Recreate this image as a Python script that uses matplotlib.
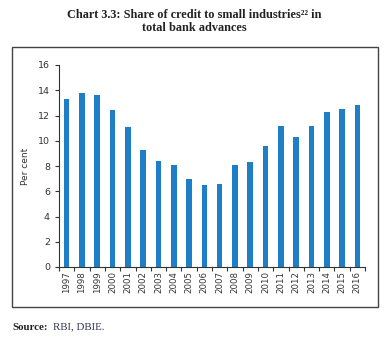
import matplotlib
matplotlib.use("Agg")
import matplotlib.pyplot as plt
from matplotlib.patches import Rectangle

# --- data ---
years = [str(y) for y in range(1997, 2017)]
share = [13.3, 13.8, 13.6, 12.4, 11.1, 9.3, 8.4, 8.1, 7.0, 6.5,
         6.6, 8.1, 8.3, 9.6, 11.2, 10.3, 11.2, 12.3, 12.5, 12.8]

BAR = "#1f7fc6"
DARK = "#333333"
SERIF = ["Liberation Serif", "DejaVu Serif"]

fig = plt.figure(figsize=(3.88, 3.39), dpi=100)
fig.patch.set_facecolor("white")

# outer frame around the chart
fig.add_artist(Rectangle((12 / 388, 1 - 307 / 339), 366 / 388, 260 / 339,
                         transform=fig.transFigure, fill=False,
                         edgecolor="#444444", linewidth=1.0))

fig.text(0.5, 1 - 15 / 339, "Chart 3.3: Share of credit to small industries\u00b2\u00b2 in",
         ha="center", va="center", fontsize=8.8, fontweight="bold",
         family=SERIF, color="#222222")
fig.text(0.5, 1 - 28 / 339, "total bank advances",
         ha="center", va="center", fontsize=8.8, fontweight="bold",
         family=SERIF, color="#222222")

ax = fig.add_axes([59 / 388, 72 / 339, 306 / 388, 202 / 339])
x = list(range(len(years)))
ax.bar(x, share, width=0.36, color=BAR)

ax.set_xlim(-0.5, len(years) - 0.5)
ax.set_ylim(0, 16)
ax.set_yticks(range(0, 17, 2))
ax.set_xticks(x)
ax.set_xticklabels(years, rotation=90, fontsize=6.2, color=DARK)
ax.tick_params(axis="x", length=0, pad=3)
ax.set_xticks([i - 0.5 for i in range(len(years) + 1)], minor=True)
ax.tick_params(axis="x", which="minor", length=3, color=DARK, width=0.8)
ax.tick_params(axis="y", labelsize=6.8, length=3, colors=DARK, width=0.8)
ax.set_ylabel("Per cent", fontsize=6.5, color=DARK, labelpad=6)

for side in ["top", "right"]:
    ax.spines[side].set_visible(False)
for side in ["left", "bottom"]:
    ax.spines[side].set_color(DARK)
    ax.spines[side].set_linewidth(0.8)

fig.text(12 / 388, 1 - 327 / 339, "Source:", ha="left", va="center",
         fontsize=7.8, fontweight="bold", family=SERIF, color="#222222")
fig.text(53 / 388, 1 - 327 / 339, "RBI, DBIE.", ha="left", va="center",
         fontsize=7.8, family=SERIF, color="#333355")

fig.savefig("out.png", dpi=100, facecolor="white")
